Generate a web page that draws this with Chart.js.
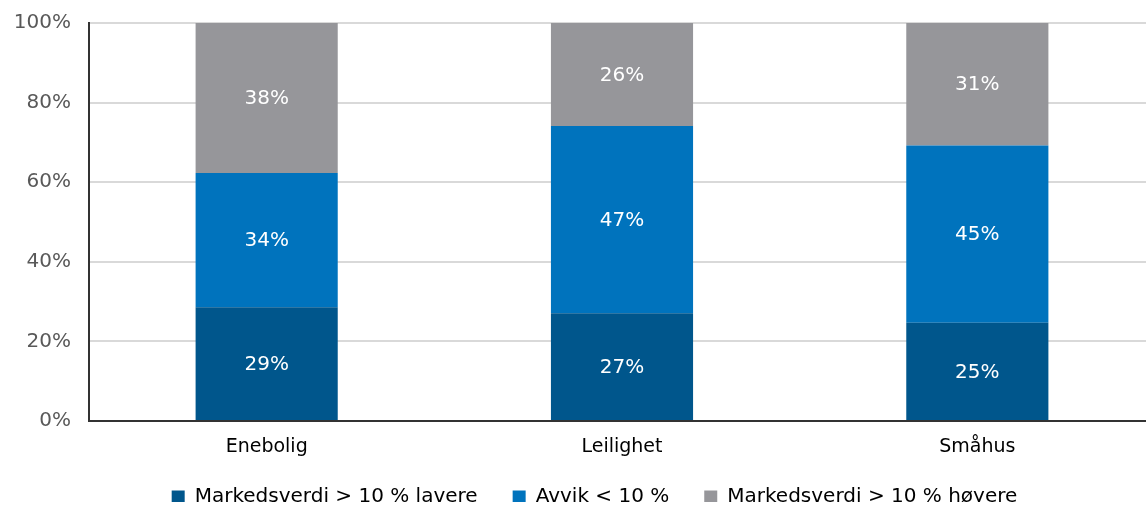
<!DOCTYPE html>
<html><head><meta charset="utf-8">
<script src="https://cdn.jsdelivr.net/npm/chart.js@4.4.1/dist/chart.umd.min.js"></script>
<style>
html,body{margin:0;padding:0;background:#fff;overflow:hidden;}
#wrap{position:relative;width:1155px;height:508px;}
</style></head>
<body><div id="wrap"><canvas id="c"></canvas></div>
<script>
const categories = ["Enebolig", "Leilighet", "Småhus"];
const seriesNames = ["Markedsverdi > 10 % lavere", "Avvik < 10 %", "Markedsverdi > 10 % høyere"];
const lavere = [28.6, 27.1, 24.7];
const avvik = [33.7, 47.0, 44.5];
const hoyere = [37.7, 25.9, 30.8];
const yTicks = [0, 20, 40, 60, 80, 100];
const colors = ["#00568c", "#0073bd", "#96969a"];
const FONT = "'DejaVu Sans', sans-serif";

const LEGEND_PAD = 35;
const valueLabels = {
  id: 'valueLabels',
  afterDatasetsDraw(chart) {
    const ctx = chart.ctx;
    ctx.save();
    ctx.fillStyle = '#ffffff';
    ctx.font = "20px " + FONT;
    ctx.textAlign = 'center';
    ctx.textBaseline = 'middle';
    chart.data.datasets.forEach((ds, i) => {
      chart.getDatasetMeta(i).data.forEach((bar, j) => {
        const p = bar.getProps(['x', 'y', 'base'], true);
        ctx.fillText(Math.round(ds.data[j]) + '%', p.x, (p.y + p.base) / 2 + 1);
      });
    });
    ctx.restore();
  }
};
const legendFix = {
  id: 'legendFix',
  afterInit(chart) {
    const lg = chart.legend;
    const orig = lg.fit;
    lg.fit = function () { orig.call(this); this.height = 50; };
  },
  afterLayout(chart) {
    const lg = chart.legend;
    const dy = (499 - LEGEND_PAD - 12) - lg.top;
    lg.top += dy; lg.bottom += dy;
    lg.left += 17; lg.right += 17;
  }
};

new Chart(document.getElementById('c'), {
  type: 'bar',
  data: {
    labels: categories,
    datasets: [
      { label: seriesNames[0], data: lavere, backgroundColor: colors[0] },
      { label: seriesNames[1], data: avvik, backgroundColor: colors[1] },
      { label: seriesNames[2], data: hoyere, backgroundColor: colors[2] }
    ]
  },
  options: {
    responsive: true,
    maintainAspectRatio: false,
    animation: false,
    devicePixelRatio: 1,
    barPercentage: 0.4,
    categoryPercentage: 1.0,
    layout: { padding: { top: 23, left: 0, right: 0, bottom: 0 } },
    plugins: {
      legend: {
        position: 'bottom',
        labels: {
          boxWidth: 13, boxHeight: 13, padding: LEGEND_PAD,
          color: '#000', font: { family: FONT, size: 20 }
        }
      },
      tooltip: { enabled: false }
    },
    scales: {
      x: {
        stacked: true,
        afterFit(axis) { axis.height = 37; },
        grid: { display: false, drawTicks: false },
        border: { color: '#333', width: 2 },
        ticks: { color: '#000', font: { family: FONT, size: 19 }, padding: 15 }
      },
      y: {
        stacked: true,
        min: 0, max: 100,
        afterBuildTicks(axis) { axis.ticks = yTicks.map(v => ({ value: v })); },
        afterFit(axis) { axis.width = 89; axis.paddingTop = 0; axis.paddingBottom = 0; },
        grid: { color: '#d9d9d9', lineWidth: 2, drawTicks: false },
        border: { color: '#333', width: 2 },
        ticks: {
          color: '#595959', padding: 18,
          font: { family: FONT, size: 20 },
          callback: v => v + '%'
        }
      }
    }
  },
  plugins: [valueLabels, legendFix]
});
</script></body></html>
